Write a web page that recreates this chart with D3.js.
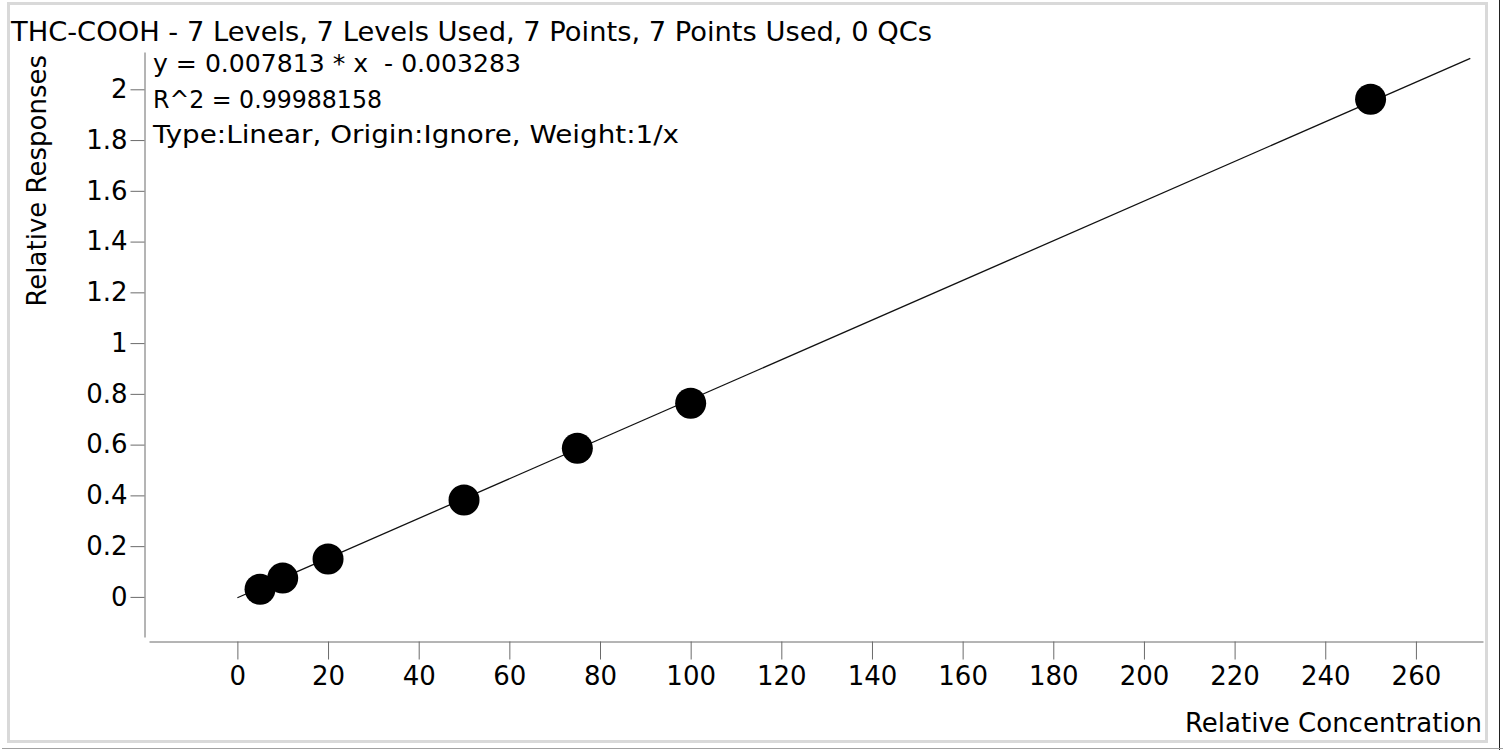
<!DOCTYPE html>
<html>
<head>
  <meta charset="utf-8">
  <script src="https://d3js.org/d3.v7.min.js"></script>
  <style type="text/css">
    body { margin: 0; background: #fff; }
    svg text { font-family: "DejaVu Sans", sans-serif; fill: #000; white-space: pre; }
    .axis path, .axis line { stroke: #6b6b6b; }
  </style>
</head>
<body>
<script type="text/javascript">
  // calibration points
  var concentrations = [5, 10, 20, 50, 75, 100, 250];
  var responses = [0.030, 0.074, 0.149, 0.382, 0.586, 0.763, 1.961];
  var fitSlope = 0.007813, fitIntercept = -0.003283;
  var fitRange = [0, 272];
  var xTicks = [0, 20, 40, 60, 80, 100, 120, 140, 160, 180, 200, 220, 240, 260];
  var yTicks = [0, 0.2, 0.4, 0.6, 0.8, 1, 1.2, 1.4, 1.6, 1.8, 2];
  var titleText = "THC-COOH - 7 Levels, 7 Levels Used, 7 Points, 7 Points Used, 0 QCs";
  var fitLines = ["y = 0.007813 * x  - 0.003283", "R^2 = 0.99988158", "Type:Linear, Origin:Ignore, Weight:1/x"];

  var width = 1503, height = 750;

  var svg = d3.select("body").append("svg")
      .attr("width", width)
      .attr("height", height);

  // outer frame
  svg.append("rect")
      .attr("x", 8.5).attr("y", 3.5)
      .attr("width", 1478).attr("height", 738)
      .attr("fill", "none")
      .attr("stroke", "#d9d9d9")
      .attr("stroke-width", 3);
  svg.append("line")
      .attr("x1", 1499.5).attr("x2", 1499.5).attr("y1", 0).attr("y2", 750)
      .attr("stroke", "#222");
  svg.append("line")
      .attr("x1", 2).attr("x2", 1503).attr("y1", 748.5).attr("y2", 748.5)
      .attr("stroke", "#a0a0a0");

  var x = d3.scaleLinear().domain([-19.5, 274.8]).range([149, 1483]);
  var y = d3.scaleLinear().domain([-0.158, 2.147]).range([637, 52]);

  var xAxis = d3.axisBottom(x)
      .tickValues(xTicks)
      .tickSize(18)
      .tickSizeOuter(0)
      .tickPadding(7);
  var gx = svg.append("g")
      .attr("class", "axis")
      .attr("transform", "translate(0,641.5)")
      .call(xAxis);
  gx.selectAll("text").style("font-size", "26px");

  var yAxis = d3.axisLeft(y)
      .tickValues(yTicks)
      .tickFormat(d3.format("~g"))
      .tickSize(14)
      .tickSizeOuter(0)
      .tickPadding(3);
  var gy = svg.append("g")
      .attr("class", "axis")
      .attr("transform", "translate(144.5,0)")
      .call(yAxis);
  gy.selectAll("text").style("font-size", "26px");

  // axis titles
  svg.append("text")
      .attr("transform", "translate(46,55) rotate(-90)")
      .attr("text-anchor", "end")
      .style("font-size", "26px")
      .text("Relative Responses");
  svg.append("text")
      .attr("x", 1482)
      .attr("y", 732)
      .attr("text-anchor", "end")
      .style("font-size", "26px")
      .text("Relative Concentration");

  // title (Tahoma-like width)
  svg.append("text")
      .attr("x", 11)
      .attr("y", 41)
      .attr("textLength", 921)
      .attr("lengthAdjust", "spacingAndGlyphs")
      .style("font-size", "26.5px")
      .text(titleText);

  // fit info
  var fitWidths = [368, 229, 526];
  svg.selectAll("text.fit")
      .data(fitLines)
      .enter().append("text")
      .attr("class", "fit")
      .attr("x", 153)
      .attr("y", function (d, i) { return 72 + i * 35.5; })
      .attr("textLength", function (d, i) { return fitWidths[i]; })
      .attr("lengthAdjust", "spacingAndGlyphs")
      .style("font-size", "25.5px")
      .text(function (d) { return d; });

  // regression line
  svg.append("line")
      .attr("x1", x(fitRange[0]))
      .attr("y1", y(fitSlope * fitRange[0] + fitIntercept))
      .attr("x2", x(fitRange[1]))
      .attr("y2", y(fitSlope * fitRange[1] + fitIntercept))
      .attr("stroke", "#111")
      .attr("stroke-width", 1.3);

  // points
  svg.selectAll("circle.pt")
      .data(concentrations)
      .enter().append("circle")
      .attr("class", "pt")
      .attr("cx", function (d) { return x(d); })
      .attr("cy", function (d, i) { return y(responses[i]); })
      .attr("r", 15.5)
      .attr("fill", "#000");
</script>
</body>
</html>
